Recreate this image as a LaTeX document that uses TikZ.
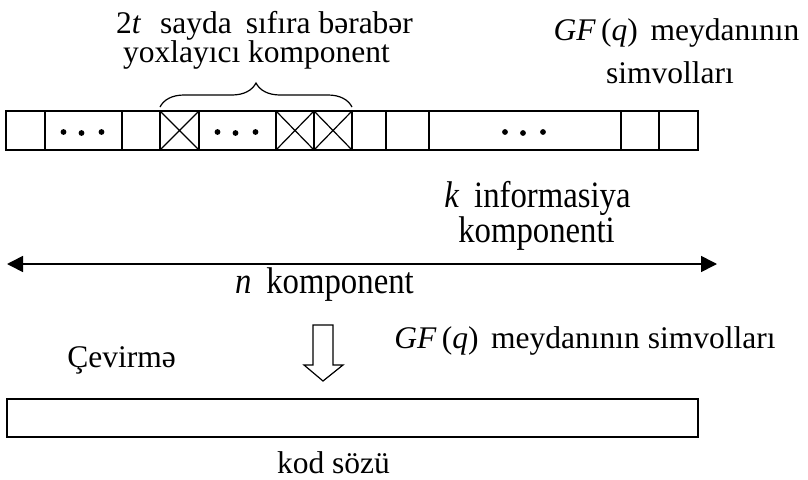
\documentclass[tikz,border=0pt]{standalone}
\usepackage{fontspec}
\setmainfont{Liberation Serif}
\usetikzlibrary{positioning}
\usetikzlibrary{arrows.meta}
\usetikzlibrary{decorations.pathreplacing}
\tikzstyle{strip} = [x = 1pt, y = -1pt, every node/.style={font=\fontsize{31.5}{36}\selectfont, inner sep=0pt}]
\tikzstyle{cellLine} = [color=black, line width=1.6pt]
\tikzstyle{crossLine} = [color=black, line width=1.2pt]
\tikzstyle{labelText} = [anchor=base]
\tikzstyle{spanArrow} = [line width=1.6pt, {Triangle[length=16pt,width=16pt]}-{Triangle[length=16pt,width=16pt]}]
\tikzstyle{blockArrow} = [line width=1.2pt, line join=miter]
\tikzstyle{checkBrace} = [line width=1.2pt, decorate, decoration={brace, amplitude=24pt}]
\newcommand{\cellTop}{111}
\newcommand{\cellBottom}{150}
\newcommand{\tallText}[1]{\scalebox{1.04}[1.18]{#1}}
\newcommand{\plainCell}[2]{\draw [cellLine] (#1, \cellTop) rectangle (#2, \cellBottom);}
\newcommand{\crossedCell}[2]{
  \plainCell{#1}{#2}
  \draw [crossLine] (#1, \cellTop) -- (#2, \cellBottom) (#1, \cellBottom) -- (#2, \cellTop);
}
\newcommand{\dottedCell}[2]{
  \plainCell{#1}{#2}
  \pgfmathsetmacro{\cellMid}{(#1 + #2) / 2}
  \foreach \shift/\drop in {-20/0, -2/1, 18/0} {
    \fill (\cellMid + \shift, 132 + \drop) circle (2.9pt);
  }
}

\begin{document}
\begin{tikzpicture}[strip]
  \useasboundingbox (0,0) rectangle (808,479);
  % the row of symbols
  \plainCell{6}{45}
  \dottedCell{45}{122}
  \plainCell{122}{160}
  \crossedCell{160}{199}
  \dottedCell{199}{276}
  \crossedCell{276}{314}
  \crossedCell{314}{352}
  \plainCell{352}{386}
  \plainCell{386}{429}
  \dottedCell{429}{621}
  \plainCell{621}{659}
  \plainCell{659}{698}
  % check part
  \coordinate (braceLeft) at (160,107);
  \coordinate (braceRight) at (352,107);
  \draw [checkBrace] (braceLeft) -- (braceRight);
  \node [labelText] (checkLineA) at (264.5,33) {2\textit{t}\hspace{0.6em}sayda\hspace{0.45em}sıfıra bərabər};
  \node [labelText] (checkLineB) at (256.5,62) {yoxlayıcı komponent};
  \node [labelText] (fieldLineA) at (676.5,40) {\textit{GF}\,(\textit{q})\hspace{0.4em}meydanının};
  \node [labelText] (fieldLineB) at (670,83) {simvolları};
  % lengths
  \node [labelText] (infoLineA) at (537.5,207) {\tallText{\textit{k}\hspace{0.45em}informasiya}};
  \node [labelText] (infoLineB) at (536.5,242) {\tallText{komponenti}};
  \coordinate (spanLeft) at (7,264);
  \coordinate (spanRight) at (717,264);
  \draw [spanArrow] (spanLeft) -- (spanRight);
  \node [labelText] (lengthLabel) at (324.5,293) {\tallText{\textit{n}\hspace{0.45em}komponent}};
  % transform
  \draw [blockArrow] (313,325) -- (333,325) -- (333,365) -- (343,365) -- (323,381) -- (304,365) -- (313,365) -- cycle;
  \node [labelText] (turnLabel) at (121.5,367) {Çevirmə};
  \node [labelText] (fieldLine) at (585,348) {\textit{GF}\,(\textit{q})\hspace{0.4em}meydanının simvolları};
  % code word
  \draw [cellLine] (7,399) rectangle (698,437);
  \node [labelText] (wordLabel) at (333.5,473) {kod sözü};
\end{tikzpicture}
\end{document}
